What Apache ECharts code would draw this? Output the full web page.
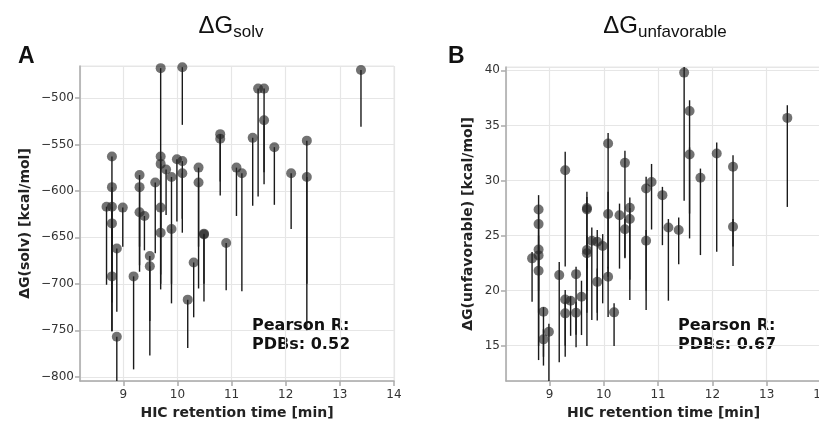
<!DOCTYPE html>
<html><head><meta charset="utf-8">
<script src="https://cdn.jsdelivr.net/npm/echarts@6/dist/echarts.min.js"></script>
<style>html,body{margin:0;padding:0;background:#fff}#c{width:819px;height:423px}</style>
</head><body><div id="c"></div>
<script>
// Panel A: ΔG(solv)
var aX    = [8.69,8.79,8.79,8.79,8.79,8.79,8.88,8.88,8.99,9.19,9.30,9.30,9.30,9.39,9.49,9.49,9.59,9.69,9.69,9.69,9.69,9.69,9.79,9.89,9.89,9.99,10.09,10.09,10.09,10.19,10.30,10.39,10.39,10.49,10.49,10.79,10.79,10.90,11.09,11.19,11.39,11.49,11.60,11.60,11.79,12.10,12.39,12.39,13.39];
var aY    = [-617,-563,-596,-617,-635,-692,-662,-757,-618,-692,-583,-596,-623,-627,-670,-681,-591,-468,-563,-571,-618,-645,-577,-585,-641,-566,-467,-568,-581,-717,-677,-575,-591,-646,-647,-539,-544,-656,-575,-581,-543,-490,-490,-524,-553,-581,-546,-585,-470];
var aLow  = [-701,-751,-700,-690,-720,-751,-730,-815,-660,-792,-687,-660,-680,-664,-777,-740,-667,-706,-650,-640,-690,-700,-626,-721,-700,-633,-529,-645,-630,-769,-736,-705,-660,-719,-700,-605,-590,-707,-627,-708,-616,-606,-593,-580,-615,-641,-750,-700,-531];

// Panel B: ΔG(unfavorable)
var bX    = [8.68,8.80,8.80,8.80,8.80,8.80,8.89,8.89,8.99,9.18,9.29,9.29,9.29,9.39,9.49,9.49,9.59,9.69,9.69,9.69,9.69,9.78,9.88,9.88,9.98,10.08,10.08,10.08,10.19,10.29,10.39,10.39,10.48,10.48,10.78,10.78,10.88,11.08,11.19,11.38,11.48,11.58,11.58,11.78,12.08,12.38,12.38,13.38];
var bY    = [22.93,27.37,26.04,23.74,23.2,21.8,18.09,15.58,16.27,21.41,30.93,19.2,17.94,19.09,21.5,18.0,19.45,27.37,27.5,23.68,23.4,24.53,24.44,20.8,24.05,33.35,26.95,21.26,18.03,26.85,31.6,25.58,27.52,26.5,29.27,24.53,29.87,28.67,25.74,25.5,39.79,36.31,32.36,30.24,32.45,31.24,25.8,35.68];
var bLow  = [19.0,22.0,20.0,13.7,18.0,15.0,14.0,13.2,11.0,13.5,22.2,14.0,15.0,15.9,14.86,16.0,15.97,20.0,22.0,14.98,18.0,17.33,17.3,18.0,18.85,21.26,22.0,17.6,14.98,22.0,22.93,23.0,19.15,21.0,18.24,20.0,25.55,24.13,19.09,22.4,28.15,24.74,27.0,23.23,23.53,22.23,24.0,27.6];
var bHigh = [23.5,28.67,27.0,25.0,24.0,23.0,18.5,16.5,17.0,22.6,32.6,20.05,19.0,19.5,22.17,19.0,20.9,28.97,28.5,25.0,24.5,25.74,25.5,22.0,25.13,34.3,28.97,22.17,18.85,27.9,32.7,26.5,28.46,27.5,30.33,25.5,31.5,29.42,26.5,26.64,40.45,37.28,33.0,31.08,33.44,32.3,26.5,36.83];

var titleA = 'solv', titleB = 'unfavorable';
var yNameA = 'ΔG(solv) [kcal/mol]', yNameB = 'ΔG(unfavorable) [kcal/mol]';
var xName = 'HIC retention time [min]';
var pearA = 'Pearson R:\nPDBs: 0.52', pearB = 'Pearson R:\nPDBs: 0.67';

function pts(xs, ys){ return xs.map(function(x,i){return [x, ys[i]];}); }
function bars(xs, lo, hi){ return xs.map(function(x,i){return [x, lo[i], hi[i]];}); }

function renderBar(params, api){
  var p1 = api.coord([api.value(0), api.value(2)]);
  var p2 = api.coord([api.value(0), api.value(1)]);
  return {type:'line', shape:{x1:p1[0],y1:p1[1],x2:p2[0],y2:p2[1]},
    style:{stroke:'#1a1a1a', lineWidth:1.4}};
}

var AX = {color:'#333', fontFamily:'DejaVu Sans', fontSize:12};
function xAxis(gi){
  return {type:'value', gridIndex:gi, min:8.2, max:14, name:xName, nameLocation:'middle', nameGap:25,
    nameTextStyle:{fontFamily:'DejaVu Sans', fontWeight:'bold', fontSize:14, color:'#222'},
    axisLine:{show:true, onZero:false, lineStyle:{color:'#aaa', width:1.5}},
    axisTick:{show:true, length:5, lineStyle:{color:'#aaa', width:1.5}},
    axisLabel:Object.assign({showMinLabel:false, margin:8}, AX),
    splitLine:{show:true, lineStyle:{color:'#e6e6e6', width:1.2}}};
}
function yAxis(gi, mn, mx, name, gap){
  return {type:'value', gridIndex:gi, min:mn, max:mx, name:name, nameLocation:'middle', nameGap:gap,
    nameTextStyle:{fontFamily:'DejaVu Sans', fontWeight:'bold', fontSize:14, color:'#222'},
    axisLine:{show:true, onZero:false, lineStyle:{color:'#aaa', width:1.5}},
    axisTick:{show:true, length:5, lineStyle:{color:'#aaa', width:1.5}},
    axisLabel:Object.assign({showMinLabel:false, showMaxLabel:false, margin:6,
      formatter:function(v){return String(v).replace('-', '\u2212');}}, AX),
    splitLine:{show:true, lineStyle:{color:'#e6e6e6', width:1.2}}};
}
var dot = {color:'rgba(35,35,35,0.8)'};
var richT = {m:{fontFamily:'Liberation Sans', fontWeight:'normal', fontSize:24, color:'#111'},
             s:{fontFamily:'Liberation Sans', fontWeight:'normal', fontSize:17, color:'#111', padding:[12,0,0,0]}};

var chart = echarts.init(document.getElementById('c'), null, {renderer:'canvas'});
chart.setOption({
  animation:false,
  backgroundColor:'#fff',
  title:[
    {text:'{m|ΔG}{s|'+titleA+'}', left:226, top:7, textAlign:'center', textStyle:{fontWeight:'normal', rich:richT}},
    {text:'{m|ΔG}{s|'+titleB+'}', left:660, top:7, textAlign:'center', textStyle:{fontWeight:'normal', rich:richT}},
    {text:'A', left:13, top:40, textStyle:{fontFamily:'Liberation Sans', fontWeight:'bold', fontSize:23, color:'#111'}},
    {text:'B', left:443, top:40, textStyle:{fontFamily:'Liberation Sans', fontWeight:'bold', fontSize:23, color:'#111'}}
  ],
  grid:[
    {left:80, top:66, width:314, height:315, show:true, borderColor:'#e6e6e6', borderWidth:1, outerBoundsMode:'none', containLabel:false},
    {left:506, top:67, width:315, height:314, show:true, borderColor:'#e6e6e6', borderWidth:1, outerBoundsMode:'none', containLabel:false}
  ],
  xAxis:[xAxis(0), xAxis(1)],
  yAxis:[yAxis(0, -804.5, -465.7, yNameA, 48), yAxis(1, 11.8, 40.3, yNameB, 31)],
  graphic:[
    {type:'text', left:252, top:316, style:{text:pearA, font:'bold 16px "DejaVu Sans"', fill:'#111', lineHeight:19}},
    {type:'text', left:678, top:316, style:{text:pearB, font:'bold 16px "DejaVu Sans"', fill:'#111', lineHeight:19}}
  ],
  series:[
    {type:'custom', xAxisIndex:0, yAxisIndex:0, clip:true, renderItem:renderBar, data:bars(aX, aLow, aY), z:2},
    {type:'scatter', xAxisIndex:0, yAxisIndex:0, symbolSize:10, itemStyle:dot, data:pts(aX, aY), z:3},
    {type:'custom', xAxisIndex:1, yAxisIndex:1, clip:true, renderItem:renderBar, data:bars(bX, bLow, bHigh), z:2},
    {type:'scatter', xAxisIndex:1, yAxisIndex:1, symbolSize:10, itemStyle:dot, data:pts(bX, bY), z:3}
  ]
});
</script></body></html>
